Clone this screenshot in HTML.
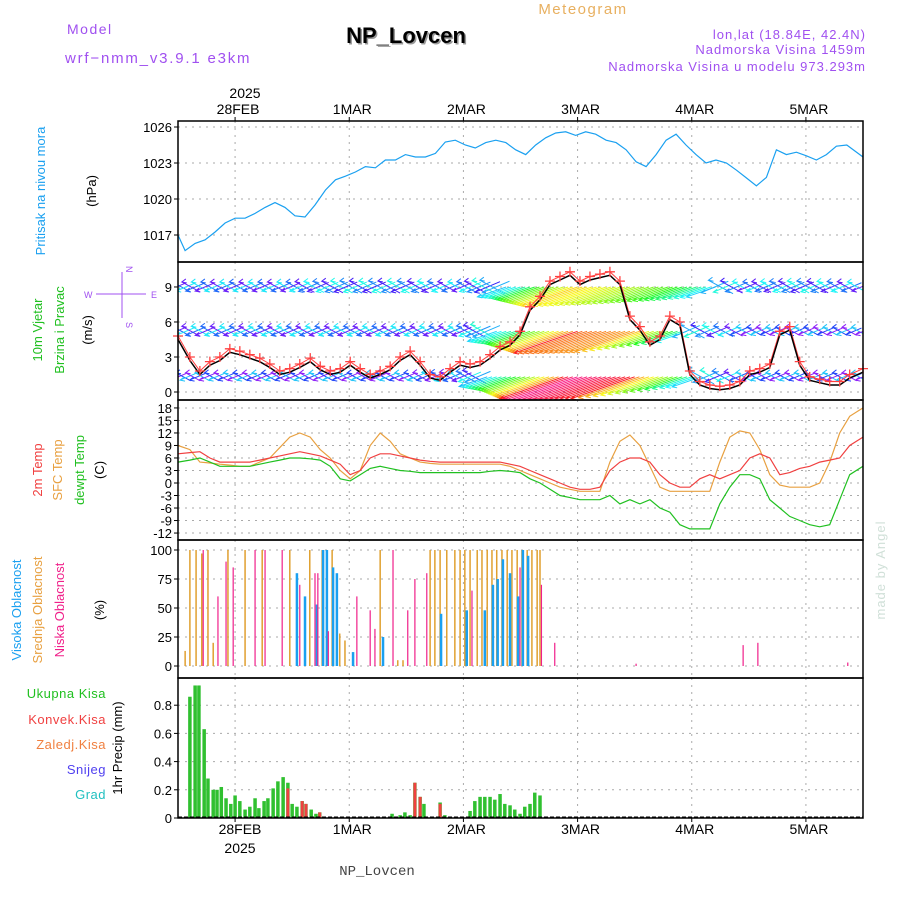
<!DOCTYPE html>
<html><head><meta charset="utf-8"><style>
body{margin:0;background:#fff}
svg text{font-family:"Liberation Sans",sans-serif}
</style></head><body>
<svg id="c" width="900" height="900" viewBox="0 0 900 900" xmlns="http://www.w3.org/2000/svg">
<defs><clipPath id="windclip"><rect x="178" y="262" width="685" height="138"/></clipPath></defs>
<rect width="900" height="900" fill="#fff"/>
<text x="67" y="34" font-size="14" fill="#a050f0" letter-spacing="1.5">Model</text>
<text x="65" y="63" font-size="15" fill="#a050f0" letter-spacing="1.8">wrf−nmm_v3.9.1 e3km</text>
<text x="407.5" y="44.5" font-size="22" font-weight="bold" text-anchor="middle" fill="#999">NP_Lovcen</text>
<text x="406" y="43" font-size="22" font-weight="bold" text-anchor="middle" fill="#000">NP_Lovcen</text>
<text x="583" y="14" font-size="15" fill="#e8b060" text-anchor="middle" letter-spacing="1.5">Meteogram</text>
<text x="866" y="39" font-size="13" fill="#a050f0" text-anchor="end" letter-spacing="1">lon,lat (18.84E, 42.4N)</text>
<text x="866" y="54" font-size="13" fill="#a050f0" text-anchor="end" letter-spacing="1">Nadmorska Visina 1459m</text>
<text x="866" y="71" font-size="13" fill="#a050f0" text-anchor="end" letter-spacing="1">Nadmorska Visina u modelu 973.293m</text>
<text x="245" y="98" font-size="14" text-anchor="middle">2025</text>
<text x="240" y="834" font-size="14" text-anchor="middle">28FEB</text>
<text x="240" y="853" font-size="14" text-anchor="middle">2025</text>
<text x="377" y="875" font-size="14" text-anchor="middle" fill="#444" style="font-family:'Liberation Mono',monospace">NP_Lovcen</text>
<text transform="translate(885,570) rotate(-90)" font-size="13" fill="#d0e0d8" text-anchor="middle" letter-spacing="1">made by Angel</text>
<g font-size="13">
<text transform="translate(45,191) rotate(-90)" fill="#1aa0f0" text-anchor="middle">Pritisak na nivou mora</text>
<text transform="translate(96,191) rotate(-90)" text-anchor="middle">(hPa)</text>
<text transform="translate(42,330) rotate(-90)" fill="#20c020" text-anchor="middle">10m Vjetar</text>
<text transform="translate(64,330) rotate(-90)" fill="#20c020" text-anchor="middle">Brzina i Pravac</text>
<text transform="translate(92,330) rotate(-90)" text-anchor="middle">(m/s)</text>
<text transform="translate(42,470) rotate(-90)" fill="#f04040" text-anchor="middle">2m Temp</text>
<text transform="translate(62,470) rotate(-90)" fill="#e8a040" text-anchor="middle">SFC Temp</text>
<text transform="translate(84,470) rotate(-90)" fill="#20c020" text-anchor="middle">dewpt Temp</text>
<text transform="translate(104,470) rotate(-90)" text-anchor="middle">(C)</text>
<text transform="translate(21,610) rotate(-90)" fill="#1aa0f0" text-anchor="middle">Visoka Oblacnost</text>
<text transform="translate(42,610) rotate(-90)" fill="#e8a040" text-anchor="middle">Srednja Oblacnost</text>
<text transform="translate(64,610) rotate(-90)" fill="#f0208a" text-anchor="middle">Niska Oblacnost</text>
<text transform="translate(104,610) rotate(-90)" text-anchor="middle">(%)</text>
<text transform="translate(122,748) rotate(-90)" text-anchor="middle">1hr Precip (mm)</text>
<text x="106" y="698" fill="#20c020" text-anchor="end" letter-spacing="0.5">Ukupna Kisa</text>
<text x="106" y="724" fill="#f04040" text-anchor="end" letter-spacing="0.5">Konvek.Kisa</text>
<text x="106" y="749" fill="#f08040" text-anchor="end" letter-spacing="0.5">Zaledj.Kisa</text>
<text x="106" y="774" fill="#5040f0" text-anchor="end" letter-spacing="0.5">Snijeg</text>
<text x="106" y="799" fill="#20c0c0" text-anchor="end" letter-spacing="0.5">Grad</text>
</g>
<g font-size="9" fill="#a050f0">
<text transform="translate(126,266) rotate(90)">N</text>
<text x="84" y="298">W</text><text x="151" y="298">E</text>
<text transform="translate(126,322) rotate(90)">S</text>
<line x1="96" y1="294" x2="146" y2="294" stroke="#a050f0"/>
<line x1="122" y1="272" x2="122" y2="318" stroke="#a050f0"/>
</g>
<g id="plot"></g>
</svg>
<script>
// ---- data ----
const dayLabels = ["28FEB","1MAR","2MAR","3MAR","4MAR","5MAR"];
const dayHours = [12,36,60,84,108,132];
const presHours = [0,1.5,3.6,5.7,7.8,9.9,12,14.1,16.2,18.3,20.4,22.5,24.6,26.7,28.8,31,33.1,35.2,37.3,39.4,41.5,43.6,45.7,47.8,49.9,52,54.1,56.2,58.3,60.4,62.5,64.7,66.8,68.9,71,73.1,75.2,77.3,79.4,81.5,83.6,85.7,87.8,90,92.1,94.2,96.3,98.4,100.5,102.6,104.7,106.8,108.9,111,113.1,115.3,117.4,119.5,121.6,123.7,125.8,127.9,130,132.1,134.2,136.3,138.4,140.6,144];
const pressure = [1017.0,1015.7,1016.3,1016.6,1017.25,1018.0,1018.4,1018.4,1018.8,1019.3,1019.7,1019.3,1018.6,1018.5,1019.5,1020.75,1021.6,1021.9,1022.25,1022.7,1022.6,1023.25,1023.25,1023.7,1023.5,1023.5,1023.8,1024.75,1024.9,1024.5,1024.25,1024.7,1024.9,1024.7,1024.1,1023.7,1024.5,1025.1,1025.5,1025.6,1025.3,1025.6,1025.4,1024.9,1024.7,1024.1,1023.1,1022.7,1023.7,1024.9,1025.4,1024.5,1023.7,1023.0,1023.25,1023.0,1022.4,1021.75,1021.1,1021.8,1024.1,1023.7,1023.9,1023.6,1023.25,1023.7,1024.4,1024.5,1023.5];
const gridHours = [0,2.5,4.6,6.7,8.8,10.9,13,15.1,17.2,19.3,21.4,23.5,25.6,27.8,29.9,32,34.1,36.2,38.3,40.4,42.5,44.6,46.7,48.8,50.9,53,55.1,57.2,59.3,61.4,63.5,65.6,67.7,69.8,71.9,74,76.1,78.2,80.3,82.4,84.5,86.6,88.7,90.8,92.9,95,97.1,99.2,101.3,103.4,105.5,107.6,109.7,111.8,113.9,116,118.1,120.2,122.3,124.4,126.5,128.6,130.7,132.8,134.9,137,139.1,141.2,144];
const windSpeed = [4.5,2.7,1.5,2.3,2.7,3.4,3.2,2.9,2.6,2.1,1.5,1.7,2.1,2.6,1.9,1.5,1.7,2.3,1.7,1.2,1.5,1.9,2.7,3.2,2.3,1.2,1.0,1.7,2.3,2.1,2.3,2.9,3.6,4.0,4.9,7.0,7.9,9.2,9.6,10.0,9.2,9.6,9.8,10.0,9.2,6.2,5.3,4.0,4.5,6.2,5.7,1.5,0.6,0.3,0.2,0.3,0.6,1.5,1.7,2.1,4.9,5.3,2.3,1.0,0.8,0.6,0.6,1.2,1.7];
const temp2m = [7,7.3,7.5,6,5,5,5,5,5.5,6,6.5,7,7.5,7,6.5,5.5,4.5,2,3,6,7,7,6.5,6,5.5,5.2,5,5,5,5,5,5,5,4.5,4,3,2,1,0,-1,-1.5,-1.5,-1,3,5,6,6,5,2,0,-1,-1,1,2,1,2,3,6,7,6,2,2.5,3.5,4,5,5.5,6,9,11];
const tempSfc = [9,8,5,4.8,4.5,4.3,4,4,5,6,8.5,11,12,11,8,6,3,1,3,9,12,10,7,6,5,4.7,4.5,4.5,4.5,4.5,4.5,4.5,4.5,4,3,2,1,0,-1,-1.5,-2,-2,-2,5,10,11.5,9,4,-1,-2,-2,-2,-2,-2,5,11,12.5,12,8,2,-0.5,-1,-1,-1,0,5,12,16,18];
const tempDew = [5,5.5,6,5,4,4,4,4,4.5,5,5.5,6,6,5.8,5.5,4,1,0.5,2,3.5,4,3.5,3,2.8,2.5,2.5,2.5,2.5,2.5,2.5,2.5,2.8,3,2.8,2.5,1,0,-1.5,-3,-3.5,-4,-4,-4,-3,-5,-4,-5,-4,-6,-7,-10,-11,-11,-11,-5,-1,2,2,1,-4,-6,-8,-9,-10,-10.5,-10,-4,2,4];
const vecHours = [0,12,24,36,48,60,72,84,96,108,120,132,144];
const vecTop = [5,5,5,6,6,5,8,14,12,9,5,6,5];
const vecMid = [5,5,5,5,5,5,9,16,15,7,4,4,4];
const vecBot = [4,4,4,4,4,5,10,18,16,8,4,4,4];
const cloudMidHours = [1.5,2.5,3.8,5,6.3,7.4,10.5,14.1,17.7,23.5,27.7,30.3,32.4,34,35.1,42.5,46.2,47.3,53,54,55.1,56.5,58.2,59.3,60.3,61.4,62.9,63.9,65,66,67,68.1,69.2,70.2,71.3,72.3,73.4,74.4,75.5,76.1];
const cloudMid = [13,100,100,97,100,20,100,100,100,100,100,100,100,28,22,100,5,5,100,100,100,100,100,100,100,100,100,100,100,100,100,100,100,100,100,100,100,100,100,100];
const cloudHighHours = [25,26.7,29.2,30.5,31.3,32.6,33.4,36.8,43.1,55.3,60.7,64.5,66.2,67.2,68.3,69.8,71.5,72.5,73.6];
const cloudHigh = [80,60,53,100,100,85,80,12,25,45,48,48,70,75,92,80,60,100,95];
const cloudLowHours = [5.3,8.4,10.1,11.6,16.2,18.3,21.9,25.6,28.8,29.4,31.6,37.6,40.4,41.4,45.2,48.3,49.8,52.3,61.8,71.9,76.4,79.2,96.3,118.8,121.9,140.8];
const cloudLow = [100,60,90,85,100,100,100,70,80,80,30,60,48,32,100,48,75,80,65,85,70,20,2,18,20,3];
const precipHours = [2.5,3.6,4.4,5.5,6.3,7.4,8.2,9.1,10.1,11.1,12,13,14.1,15.1,16.2,17,18.1,18.9,20,21,22.1,23.1,24,25,26.1,26.9,28,29,29.8,45,46.7,47.7,48.8,49.8,50.9,51.7,55.1,56.1,61.4,62.4,63.5,64.5,65.6,66.6,67.7,68.7,69.8,70.8,71.9,72.9,74,75,76.1];
const precipTotal = [.86,.94,.94,.63,.28,.2,.2,.22,.14,.1,.16,.12,.06,.08,.14,.07,.12,.14,.21,.26,.29,.25,.1,.08,.12,.1,.06,.03,.04,.03,.02,.04,.02,.25,.15,.1,.11,.02,.05,.12,.15,.15,.15,.13,.17,.1,.09,.06,.03,.08,.1,.18,.16];
const convHours = [23.1,26.1,26.9,29.8,49.8,50.9,55.1];
const precipConv = [.21,.12,.1,.04,.25,.15,.1];
const presTicks = [1017,1020,1023,1026];
const windTicks = [0,3,6,9];
const tempTicks = [-12,-9,-6,-3,0,3,6,9,12,15,18];
const cloudTicks = [0,25,50,75,100];
const precipTicks = [0,0.2,0.4,0.6,0.8];

// ---- layout ----
const NS="http://www.w3.org/2000/svg", root=document.getElementById('plot');
let g=root;
const X0=178,X1=863;
const xs=h=>X0+h*(X1-X0)/144;
const panels=[
 {top:121,bot:262,y:v=>235-(v-1017)*12,ticks:presTicks,fmt:v=>v,name:'pressure'},
 {top:262,bot:400,y:v=>392-v*11.67,ticks:windTicks,fmt:v=>v,name:'wind'},
 {top:400,bot:540,y:v=>483-v*4.17,ticks:tempTicks,fmt:v=>v,name:'temperature'},
 {top:540,bot:678,y:v=>666-v*1.16,ticks:cloudTicks,fmt:v=>v,name:'cloud'},
 {top:678,bot:818,y:v=>818-v*141,ticks:precipTicks,fmt:v=>v===0?'0':v.toFixed(1),name:'precip'}];
function mk(tag,attrs){const e=document.createElementNS(NS,tag);for(const k in attrs)e.setAttribute(k,attrs[k]);g.appendChild(e);return e;}
panels.forEach(p=>{
  dayHours.forEach(h=>{const l=mk('line',{x1:xs(h),x2:xs(h),y1:p.top,y2:p.bot,stroke:'#aaa','stroke-dasharray':'2,5'});
    
    });
  p.ticks.forEach(v=>{const y=p.y(v);
    const l=mk('line',{x1:X0,x2:X1,y1:y,y2:y,stroke:'#aaa','stroke-dasharray':'2,5'});
    
    
    mk('line',{x1:X0-4,x2:X0,y1:y,y2:y,stroke:'#000'});
    const t=mk('text',{x:X0-6,y:y+5,'font-size':13,'text-anchor':'end'});t.textContent=p.fmt(v);
    
    });
});
function line(hours,vals,p,color,name,w){
  const d=vals.map((v,i)=>(i?'L':'M')+xs(hours[i]).toFixed(1)+','+p.y(v).toFixed(1)).join('');
  const e=mk('path',{d,fill:'none',stroke:color,'stroke-width':w||1.2});
  
  
  return e;}
line(presHours,pressure,panels[0],'#1aa0f0','pressure-line');
function interp(hs,vs,h){for(let i=1;i<hs.length;i++){if(h<=hs[i]){const f=(h-hs[i-1])/(hs[i]-hs[i-1]);return vs[i-1]+f*(vs[i]-vs[i-1]);}}return vs[vs.length-1];}
function col(s,h){let hue;if(s<7)hue=(h%3===0?270:h%3===1?230:195)-(s-4)*10;else if(s<10)hue=200-(s-7)*30;else if(s<16)hue=110-(s-10)*15;else hue=360-(s-16)*15;return 'hsl('+((hue+360)%360)+',95%,55%)';}
const vg=mk('g',{'clip-path':'url(#windclip)'});


g=vg;
[[vecTop,9],[vecMid,5.2],[vecBot,1.3]].forEach(([arr,lev])=>{
  const y0=panels[1].y(lev);
  for(let h=0;h<=144;h++){const s=interp(vecHours,arr,h);const L=s*4.2;
    const a=s>7?0.33:(h%2?-0.5:0.4);const x=xs(h)+ (s>7?0:8),x2=x-L*Math.cos(a),y2=y0+L*Math.sin(a)-(s>7?0:L*Math.sin(a)/2);
    const e=mk('path',{d:`M${x},${s>7?y0:y0-L*Math.sin(a)/2}L${x2},${y2}M${x2+4},${y2-3}L${x2},${y2}L${x2+5},${y2+1}`,stroke:col(s,h),'stroke-width':1,fill:'none'});
    
    }
});
g=root;
line(gridHours,windSpeed.map(v=>v+0.3),panels[1],'#ff4040','wind-gust-line',1);
line(gridHours,windSpeed,panels[1],'#000','wind-speed-line',1.5);
windSpeed.forEach((v,i)=>{const x=xs(gridHours[i]),y=panels[1].y(v+0.3);
  const e=mk('path',{d:`M${x-5},${y}H${x+5}M${x},${y-5}V${y+5}`,stroke:'#ff4040','stroke-width':1.3});
  
  });
line(gridHours,tempSfc,panels[2],'#e8a040','sfc-temp-line');
line(gridHours,temp2m,panels[2],'#f04040','temp-2m-line');
line(gridHours,tempDew,panels[2],'#20c020','dewpoint-line');
function bars(hours,vals,p,color,name,w){vals.forEach((v,i)=>{const x=xs(hours[i]);
  const e=mk('rect',{x:x-w/2,y:p.y(v),width:w,height:p.y(0)-p.y(v),fill:color});
  
  });}
bars(cloudMidHours,cloudMid,panels[3],'#e0a030','cloud-mid-bar',1.5);
bars(cloudHighHours,cloudHigh,panels[3],'#1aa0f0','cloud-high-bar',2.5);
bars(cloudLowHours,cloudLow,panels[3],'#f0208a','cloud-low-bar',1.2);
bars(precipHours,precipTotal,panels[4],'#30c030','precip-total-bar',3.5);
bars(convHours,precipConv,panels[4],'#f04040','precip-convective-bar',3);
mk('line',{x1:X0,x2:X1,y1:817,y2:817,stroke:'#000','stroke-dasharray':'4,2'});
panels.forEach(p=>{const r=mk('rect',{x:X0,y:p.top,width:X1-X0,height:p.bot-p.top,fill:'none',stroke:'#000','stroke-width':1.5});
  
  });
dayHours.forEach((h,i)=>{const x=xs(h);
  mk('line',{x1:x,x2:x,y1:117,y2:121,stroke:'#000'});mk('line',{x1:x,x2:x,y1:818,y2:822,stroke:'#000'});
  const t=mk('text',{x:x+3,y:114,'font-size':14,'text-anchor':'middle'});t.textContent=dayLabels[i];
  
  
  if(i>0){const b=mk('text',{x:x+3,y:834,'font-size':14,'text-anchor':'middle'});b.textContent=dayLabels[i];
  
  }});
</script>
</body></html>
